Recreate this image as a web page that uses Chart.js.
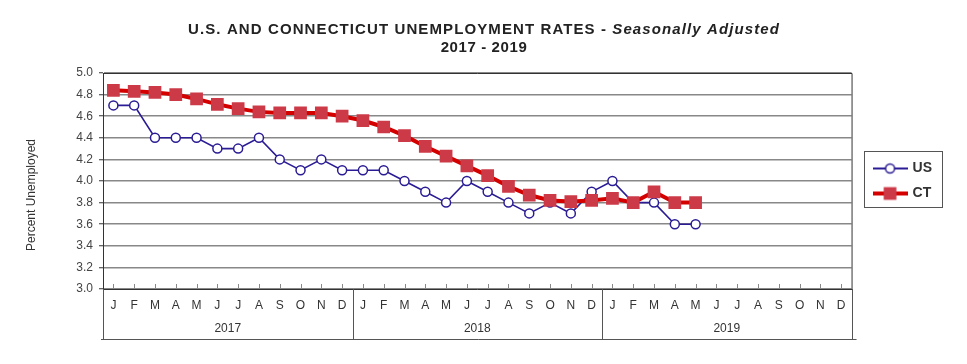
<!DOCTYPE html>
<html><head><meta charset="utf-8">
<script src="https://cdn.jsdelivr.net/npm/chart.js@4.4.1/dist/chart.umd.min.js"></script>
<style>html,body{margin:0;padding:0;background:#fff}#wrap{width:967px;height:364px;position:relative}</style>
</head><body><div id="wrap"><canvas id="c" width="967" height="364"></canvas></div>
<script>
// ---- data ----
const months = ['J','F','M','A','M','J','J','A','S','O','N','D'];
const years = ['2017','2018','2019'];
const titleMain = 'U.S. AND CONNECTICUT UNEMPLOYMENT RATES - ';
const titleItalic = 'Seasonally Adjusted';
const titleSub = '2017 - 2019';
const yAxisTitle = 'Percent Unemployed';
const yTicks = [3.0, 3.2, 3.4, 3.6, 3.8, 4.0, 4.2, 4.4, 4.6, 4.8, 5.0];
const usRates = [4.7, 4.7, 4.4, 4.4, 4.4, 4.3, 4.3, 4.4, 4.2, 4.1, 4.2, 4.1,
                 4.1, 4.1, 4.0, 3.9, 3.8, 4.0, 3.9, 3.8, 3.7, 3.8, 3.7, 3.9,
                 4.0, 3.8, 3.8, 3.6, 3.6];
const ctRates = [4.84, 4.83, 4.82, 4.80, 4.76, 4.71, 4.67, 4.64, 4.63, 4.63, 4.63, 4.60,
                 4.56, 4.50, 4.42, 4.32, 4.23, 4.14, 4.05, 3.95, 3.87, 3.82, 3.81, 3.82,
                 3.84, 3.80, 3.90, 3.80, 3.80];
const categories = [];
years.forEach(() => months.forEach(m => categories.push(m)));

Chart.defaults.font.family = "'Liberation Sans', Arial, sans-serif";
Chart.defaults.color = '#333';

const US_COLOR = '#2a1c94';
const CT_LINE = '#d40000';
const CT_POINT = '#cc3a48';

function sample(lineColor, lineWidth, style, radius, fill, stroke, bw) {
  const c = document.createElement('canvas');
  c.width = 35; c.height = 16;
  const g = c.getContext('2d');
  g.strokeStyle = lineColor; g.lineWidth = lineWidth;
  g.beginPath(); g.moveTo(0, 8); g.lineTo(35, 8); g.stroke();
  g.fillStyle = fill; g.strokeStyle = stroke; g.lineWidth = bw;
  Chart.helpers.drawPoint(g, {pointStyle: style, radius: radius, borderWidth: bw}, 17.5, 8);
  return c;
}

const titlePlugin = {
  id: 'titlePlugin',
  afterDraw(chart) {
    const ctx = chart.ctx;
    ctx.save();
    ctx.fillStyle = '#222';
    ctx.textBaseline = 'middle';
    const f1 = "bold 15px 'Liberation Sans', Arial, sans-serif";
    const f2 = "italic bold 15px 'Liberation Sans', Arial, sans-serif";
    ctx.letterSpacing = '1.1px';
    ctx.font = f1; const w1 = ctx.measureText(titleMain).width;
    ctx.font = f2; const w2 = ctx.measureText(titleItalic).width;
    const cx = 484;
    let x = cx - (w1 + w2) / 2;
    ctx.textAlign = 'left';
    ctx.font = f1; ctx.fillText(titleMain, x, 30);
    ctx.font = f2; ctx.fillText(titleItalic, x + w1, 30);
    ctx.letterSpacing = '0.6px';
    ctx.font = f1;
    const w3 = ctx.measureText(titleSub).width;
    ctx.fillText(titleSub, cx - w3 / 2, 48);
    ctx.letterSpacing = '0px';
    // y axis title
    ctx.textAlign = 'center';
    ctx.font = "12px 'Liberation Sans', Arial, sans-serif";
    ctx.fillStyle = '#333';
    ctx.translate(32, 195);
    ctx.rotate(-Math.PI / 2);
    ctx.fillText(yAxisTitle, 0, 0);
    ctx.restore();
  }
};

const framePlugin = {
  id: 'framePlugin',
  afterDraw(chart) {
    const ctx = chart.ctx;
    const a = chart.chartArea;
    const xs = chart.scales.x;
    const x2 = chart.scales.x2;
    ctx.save();
    // frame top/right
    ctx.strokeStyle = '#333'; ctx.lineWidth = 1;
    ctx.beginPath();
    ctx.moveTo(a.left, a.top + 0.5); ctx.lineTo(a.right + 0.5, a.top + 0.5); ctx.lineTo(a.right + 0.5, a.bottom);
    ctx.stroke();
    // inward month ticks
    ctx.strokeStyle = '#888';
    ctx.beginPath();
    for (let i = 0; i < categories.length; i++) {
      const px = Math.round(xs.getPixelForValue(i)) + 0.5;
      ctx.moveTo(px, a.bottom); ctx.lineTo(px, a.bottom - 5);
    }
    ctx.stroke();
    // year separators and box
    ctx.strokeStyle = '#555';
    ctx.beginPath();
    const bottom = x2.bottom;
    for (let y = 0; y <= years.length; y++) {
      let px;
      if (y === 0) px = a.left;
      else if (y === years.length) px = a.right;
      else px = (xs.getPixelForValue(y * 12 - 1) + xs.getPixelForValue(y * 12)) / 2;
      px = Math.round(px) + 0.5;
      ctx.moveTo(px, a.bottom); ctx.lineTo(px, bottom);
    }
    ctx.moveTo(a.left - 2, bottom + 0.5); ctx.lineTo(a.right + 5, bottom + 0.5);
    ctx.stroke();
    // legend box
    const lg = chart.legend;
    if (lg && lg.legendHitBoxes && lg.legendHitBoxes.length) {
      const hb = lg.legendHitBoxes;
      let l = Infinity, t = Infinity, r = -Infinity, b = -Infinity;
      hb.forEach(h => { l = Math.min(l, h.left); t = Math.min(t, h.top); r = Math.max(r, h.left + h.width); b = Math.max(b, h.top + h.height); });
      ctx.strokeStyle = '#555';
      ctx.strokeRect(Math.round(l - 11) + 0.5, Math.round(t - 11) + 0.5, Math.round(r - l + 21), Math.round(b - t + 17));
    }
    ctx.restore();
  }
};

new Chart(document.getElementById('c'), {
  type: 'line',
  data: {
    labels: categories,
    datasets: [
      { label: 'US', data: usRates, borderColor: US_COLOR, borderWidth: 1.6,
        pointStyle: 'circle', pointRadius: 4.5, pointBorderWidth: 1.5,
        pointBackgroundColor: '#fff', pointBorderColor: US_COLOR, tension: 0, order: 2 },
      { label: 'CT', data: ctRates, borderColor: CT_LINE, borderWidth: 4,
        pointStyle: 'rect', pointRadius: 9, pointBorderWidth: 0,
        pointBackgroundColor: CT_POINT, pointBorderColor: CT_POINT, tension: 0, order: 1 }
    ]
  },
  options: {
    responsive: false, animation: false, events: [],
    layout: { padding: { top: 73, right: 25, bottom: 25, left: 22 } },
    plugins: {
      title: { display: false },
      tooltip: { enabled: false },
      legend: {
        position: 'right', fullSize: false,
        labels: {
          usePointStyle: true, pointStyleWidth: 31, boxHeight: 14, padding: 11,
          color: '#333', font: { size: 14, weight: 'bold' },
          generateLabels: () => [
            { text: 'US', fontColor: '#333', pointStyle: sample(US_COLOR, 2, 'circle', 4.5, '#fff', US_COLOR, 1.5), lineWidth: 0, strokeStyle: 'rgba(0,0,0,0)', fillStyle: 'rgba(0,0,0,0)', hidden: false, datasetIndex: 0 },
            { text: 'CT', fontColor: '#333', pointStyle: sample(CT_LINE, 4, 'rect', 9, CT_POINT, CT_POINT, 0), lineWidth: 0, strokeStyle: 'rgba(0,0,0,0)', fillStyle: 'rgba(0,0,0,0)', hidden: false, datasetIndex: 1 }
          ]
        }
      }
    },
    scales: {
      x: {
        type: 'category', offset: true,
        grid: { display: false, drawTicks: false },
        border: { display: true, color: '#333', width: 1 },
        ticks: { autoSkip: false, maxRotation: 0, padding: 9, color: '#333', font: { size: 12 } },
        afterFit: s => { s.height = 27; }
      },
      x2: {
        type: 'category', labels: years, offset: true, position: 'bottom',
        grid: { display: false, drawTicks: false },
        border: { display: false },
        ticks: { autoSkip: false, maxRotation: 0, padding: 5, color: '#333', font: { size: 12 } },
        afterFit: s => { s.height = 23; }
      },
      y: {
        min: 3, max: 5,
        afterBuildTicks: s => { s.ticks = yTicks.map(v => ({ value: v })); },
        ticks: { callback: v => Number(v).toFixed(1), color: '#444', font: { size: 12 }, padding: 6 },
        grid: { color: '#888', lineWidth: 1.5, tickLength: 4, tickColor: '#333', tickWidth: 1 },
        border: { display: true, color: '#333', width: 1 },
        afterFit: s => { s.width = 81; }
      },
      yR: {
        position: 'right', display: true,
        grid: { display: false, drawTicks: false },
        ticks: { display: false },
        border: { display: false },
        afterFit: s => { s.width = 12; }
      }
    }
  },
  plugins: [titlePlugin, framePlugin]
});
</script>
</body></html>
